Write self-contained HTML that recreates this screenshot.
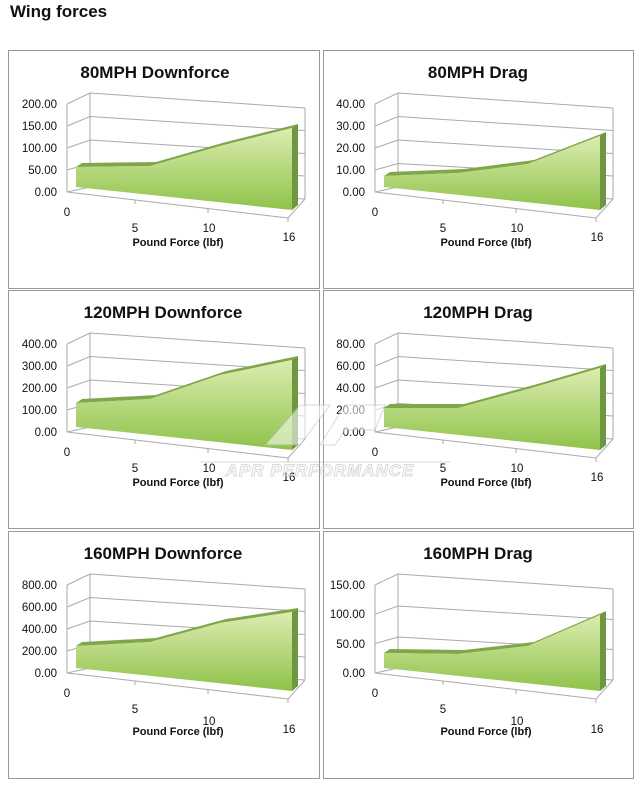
<!DOCTYPE html>
<html><head><meta charset="utf-8"><style>
body{margin:0;background:#fff;width:640px;height:785px;overflow:hidden}
svg{display:block;font-family:"Liberation Sans",Arial,sans-serif}
.t{font-size:17px;font-weight:bold;text-anchor:middle;fill:#111}
.y{font-size:11.5px;text-anchor:end;fill:#111}
.x{font-size:11.5px;text-anchor:middle;fill:#111}
.xl{font-size:11px;font-weight:bold;text-anchor:middle;fill:#111}
</style></head><body>
<svg width="640" height="785" viewBox="0 0 640 785">
<defs>
<linearGradient id="g" x1="0" y1="0" x2="0" y2="1">
<stop offset="0" stop-color="#dcedb0"/><stop offset="1" stop-color="#8fc24a"/></linearGradient>
<symbol id="fr" overflow="visible">
<g fill="none" stroke="#aaa" stroke-width="1">
<polyline points="59,142 82,137 297,149"/>
<polyline points="59,120 82,113.5 297,126"/>
<polyline points="59,98 82,90 297,103.5"/>
<polyline points="59,76 82,66.5 297,80.5"/>
<polyline points="59,54 82,43 297,58"/>
<line x1="59" y1="54" x2="59" y2="142"/>
<line x1="82" y1="43" x2="82" y2="137"/>
<polyline points="59,142 280,168 297,149"/>
<line x1="297" y1="58" x2="297" y2="149"/>
<line x1="127" y1="150" x2="127" y2="154"/><line x1="200" y1="159" x2="200" y2="163"/><line x1="280" y1="168" x2="280" y2="172"/>
</g></symbol>
<symbol id="fr6" overflow="visible">
<g fill="none" stroke="#aaa" stroke-width="1">
<polyline points="59,142 82,137 297,149"/>
<polyline points="59,112.7 82,106 297,118.5"/>
<polyline points="59,83.3 82,75 297,88.5"/>
<polyline points="59,54 82,43 297,58"/>
<line x1="59" y1="54" x2="59" y2="142"/>
<line x1="82" y1="43" x2="82" y2="137"/>
<polyline points="59,142 280,168 297,149"/>
<line x1="297" y1="58" x2="297" y2="149"/>
<line x1="127" y1="150" x2="127" y2="154"/><line x1="200" y1="159" x2="200" y2="163"/><line x1="280" y1="168" x2="280" y2="172"/>
</g></symbol>
</defs>
<text x="10" y="17" style="font-size:17px;font-weight:bold" fill="#111">Wing forces</text>
<g fill="none" stroke="#999">
<rect x="8.5" y="50.5" width="311" height="238"/>
<rect x="323.5" y="50.5" width="310" height="238"/>
<rect x="8.5" y="290.5" width="311" height="238"/>
<rect x="323.5" y="290.5" width="310" height="238"/>
<rect x="8.5" y="531.5" width="311" height="247"/>
<rect x="323.5" y="531.5" width="310" height="247"/>
</g>

<!-- chart 1 -->
<g transform="translate(8,50)">
<text class="t" x="147" y="28">80MPH Downforce</text>
<use href="#fr"/>
<polygon fill="#7fa74a" points="68,117 74,113 148,112 218,92 290,74 284,78 212,96 142,116"/>
<polygon fill="url(#g)" points="68,117 142,116 212,96 284,78 284,160 68,137"/>
<polygon fill="#6f9640" points="284,78 290,74 290,155 284,160"/>
<g class="y"><text x="49" y="58">200.00</text><text x="49" y="80">150.00</text><text x="49" y="102">100.00</text><text x="49" y="124">50.00</text><text x="49" y="146">0.00</text></g>
<g class="x"><text x="59" y="166">0</text><text x="127" y="182">5</text><text x="201" y="182">10</text><text x="281" y="191">16</text></g>
<text class="xl" x="170" y="196">Pound Force (lbf)</text>
</g>
<!-- chart 2 -->
<g transform="translate(323,50)">
<text class="t" x="155" y="28">80MPH Drag</text>
<g transform="translate(-7,0)">
<use href="#fr"/>
<polygon fill="#7fa74a" points="68,126 74,122 148,119 218,110 290,82 284,86 212,114 142,123"/>
<polygon fill="url(#g)" points="68,126 142,123 212,114 284,86 284,160 68,137"/>
<polygon fill="#6f9640" points="284,86 290,82 290,155 284,160"/>
<g class="y"><text x="49" y="58">40.00</text><text x="49" y="80">30.00</text><text x="49" y="102">20.00</text><text x="49" y="124">10.00</text><text x="49" y="146">0.00</text></g>
<g class="x"><text x="59" y="166">0</text><text x="127" y="182">5</text><text x="201" y="182">10</text><text x="281" y="191">16</text></g>
<text class="xl" x="170" y="196">Pound Force (lbf)</text>
</g></g>
<!-- chart 3 -->
<g transform="translate(8,290)">
<text class="t" x="155" y="28">120MPH Downforce</text>
<use href="#fr"/>
<polygon fill="#7fa74a" points="68,113 74,109 148,105 218,81 290,66 284,70 212,85 142,109"/>
<polygon fill="url(#g)" points="68,113 142,109 212,85 284,70 284,160 68,137"/>
<polygon fill="#6f9640" points="284,70 290,66 290,155 284,160"/>
<g class="y"><text x="49" y="58">400.00</text><text x="49" y="80">300.00</text><text x="49" y="102">200.00</text><text x="49" y="124">100.00</text><text x="49" y="146">0.00</text></g>
<g class="x"><text x="59" y="166">0</text><text x="127" y="182">5</text><text x="201" y="182">10</text><text x="281" y="191">16</text></g>
<text class="xl" x="170" y="196">Pound Force (lbf)</text>
</g>
<!-- chart 4 -->
<g transform="translate(323,290)">
<text class="t" x="155" y="28">120MPH Drag</text>
<g transform="translate(-7,0)">
<use href="#fr"/>
<polygon fill="#7fa74a" points="68,118 74,114 148,114 218,95 290,74 284,78 212,99 142,118"/>
<polygon fill="url(#g)" points="68,118 142,118 212,99 284,78 284,160 68,137"/>
<polygon fill="#6f9640" points="284,78 290,74 290,155 284,160"/>
<g class="y"><text x="49" y="58">80.00</text><text x="49" y="80">60.00</text><text x="49" y="102">40.00</text><text x="49" y="124">20.00</text><text x="49" y="146">0.00</text></g>
<g class="x"><text x="59" y="166">0</text><text x="127" y="182">5</text><text x="201" y="182">10</text><text x="281" y="191">16</text></g>
<text class="xl" x="170" y="196">Pound Force (lbf)</text>
</g></g>
<!-- chart 5 -->
<g transform="translate(8,531)">
<text class="t" x="155" y="28">160MPH Downforce</text>
<use href="#fr"/>
<polygon fill="#7fa74a" points="68,115 74,111 148,107 218,88 290,77 284,81 212,92 142,111"/>
<polygon fill="url(#g)" points="68,115 142,111 212,92 284,81 284,160 68,137"/>
<polygon fill="#6f9640" points="284,81 290,77 290,155 284,160"/>
<g class="y"><text x="49" y="58">800.00</text><text x="49" y="80">600.00</text><text x="49" y="102">400.00</text><text x="49" y="124">200.00</text><text x="49" y="146">0.00</text></g>
<g class="x"><text x="59" y="166">0</text><text x="127" y="182">5</text><text x="201" y="194">10</text><text x="281" y="202">16</text></g>
<text class="xl" x="170" y="204">Pound Force (lbf)</text>
</g>
<!-- chart 6 -->
<g transform="translate(323,531)">
<text class="t" x="155" y="28">160MPH Drag</text>
<g transform="translate(-7,0)">
<use href="#fr6"/>
<polygon fill="#7fa74a" points="68,122 74,118 148,119 218,111 290,80 284,84 212,115 142,123"/>
<polygon fill="url(#g)" points="68,122 142,123 212,115 284,84 284,160 68,137"/>
<polygon fill="#6f9640" points="284,84 290,80 290,155 284,160"/>
<g class="y"><text x="49" y="58">150.00</text><text x="49" y="87">100.00</text><text x="49" y="117">50.00</text><text x="49" y="146">0.00</text></g>
<g class="x"><text x="59" y="166">0</text><text x="127" y="182">5</text><text x="201" y="194">10</text><text x="281" y="202">16</text></g>
<text class="xl" x="170" y="204">Pound Force (lbf)</text>
</g></g>
<!-- watermark -->
<g opacity="0.55">
<polygon fill="#fff" stroke="#bbb" points="265,445 300,405 330,405 300,445"/>
<polygon fill="#fff" stroke="#bbb" points="345,405 385,405 375,430 345,430 335,445 320,445"/>
<line x1="200" y1="462" x2="450" y2="462" stroke="#bbb"/>
<text x="320" y="476" text-anchor="middle" font-size="17" font-style="italic" font-weight="bold" fill="#fff" stroke="#bbb" stroke-width="1" letter-spacing="1">APR PERFORMANCE</text>
</g>
</svg>
</body></html>
